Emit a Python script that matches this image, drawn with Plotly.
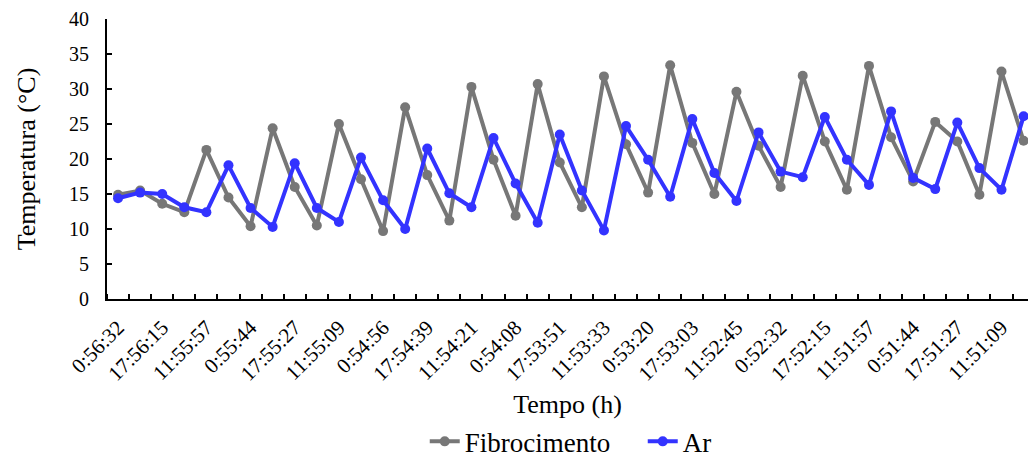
import plotly.graph_objects as go

fibrocimento = [14.9, 15.5, 13.6, 12.4, 21.3, 14.5, 10.4, 24.4, 16.0, 10.5,
                25.0, 17.1, 9.7, 27.4, 17.7, 11.2, 30.3, 19.9, 11.9, 30.7,
                19.5, 13.1, 31.8, 22.1, 15.2, 33.4, 22.3, 15.0, 29.6, 21.9,
                16.0, 31.9, 22.5, 15.6, 33.3, 23.1, 16.8, 25.3, 22.5, 14.9,
                32.5, 22.6]
ar = [14.4, 15.2, 15.0, 13.1, 12.4, 19.1, 13.0, 10.3, 19.4, 13.0,
      11.0, 20.2, 14.1, 10.0, 21.5, 15.1, 13.1, 23.0, 16.5, 10.9,
      23.5, 15.5, 9.8, 24.7, 19.9, 14.6, 25.7, 18.0, 14.0, 23.8,
      18.2, 17.4, 26.0, 19.9, 16.3, 26.8, 17.3, 15.7, 25.2, 18.7,
      15.6, 26.1]
tick_labels = ["0:56:32", "17:56:15", "11:55:57", "0:55:44", "17:55:27",
               "11:55:09", "0:54:56", "17:54:39", "11:54:21", "0:54:08",
               "17:53:51", "11:53:33", "0:53:20", "17:53:03", "11:52:45",
               "0:52:32", "17:52:15", "11:51:57", "0:51:44", "17:51:27",
               "11:51:09"]

idx = list(range(len(ar)))
tick_pos = idx[::2]
labels_used = tick_labels[:len(tick_pos)]

fig = go.Figure()
fig.add_trace(go.Scatter(x=idx, y=fibrocimento, mode="lines+markers", name="Fibrocimento",
                         line=dict(color="#777777", width=4),
                         marker=dict(color="#777777", size=10)))
fig.add_trace(go.Scatter(x=idx, y=ar, mode="lines+markers", name="Ar",
                         line=dict(color="#3333ff", width=4),
                         marker=dict(color="#3333ff", size=10)))

fig.update_layout(
    width=1028, height=457,
    margin=dict(l=107, r=0, t=19, b=158, autoexpand=False),
    plot_bgcolor="white", paper_bgcolor="white",
    font=dict(family="Liberation Serif", color="black"),
    showlegend=True,
    legend=dict(orientation="h", x=0.345, xanchor="left", y=-0.51, yanchor="middle",
                font=dict(family="Liberation Serif", size=27, color="black"),
                entrywidth=173, entrywidthmode="pixels",
                tracegroupgap=0),
)
fig.update_xaxes(
    automargin=False,
    range=[-0.5, 41.2],
    tickmode="array", tickvals=tick_pos, ticktext=labels_used,
    tickangle=-45, tickfont=dict(size=21, family="Liberation Serif"),
    ticks="", showline=True, linecolor="black", linewidth=2,
    showgrid=False, zeroline=False, ticklabelstandoff=6,
    minor=dict(tickmode="linear", tick0=0.5, dtick=1, ticks="inside",
               ticklen=5, tickcolor="black", tickwidth=2, showgrid=False),
    title=dict(text="Tempo (h)", font=dict(size=26, family="Liberation Serif"), standoff=10),
)
fig.update_yaxes(
    automargin=False,
    range=[0, 40], tickmode="linear", tick0=0, dtick=5,
    ticks="inside", ticklen=5, tickwidth=2, tickcolor="black",
    showline=True, linecolor="black", linewidth=2,
    showgrid=False, zeroline=False,
    tickfont=dict(size=20, family="Liberation Serif"),
    ticklabelstandoff=12,
    title=dict(text="Temperatura (°C)", font=dict(size=26, family="Liberation Serif"), standoff=26),
)

fig.write_html("out.html")
